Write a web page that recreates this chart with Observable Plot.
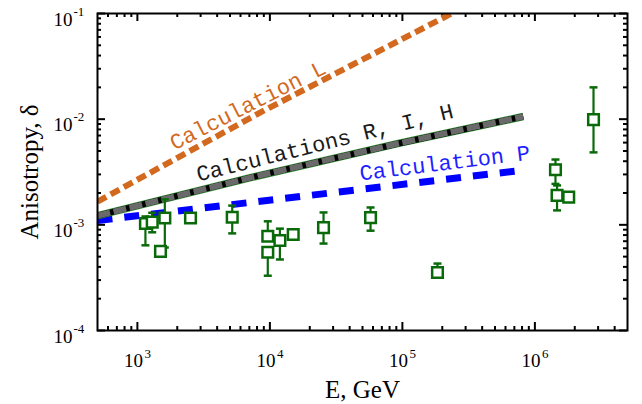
<!DOCTYPE html>
<html>
<head>
<meta charset="utf-8">
<script src="https://cdn.jsdelivr.net/npm/d3@7"></script>
<script src="https://cdn.jsdelivr.net/npm/@observablehq/plot@0.6"></script>
<style>
  html, body { margin: 0; padding: 0; background: white; }
</style>
</head>
<body>
<div id="chart"></div>
<script>
// ---- data ----
const energy  = [1150, 1294, 1611, 1494, 2517, 5197, 9640, 9640, 11900, 15000, 25400, 57500, 184000, 1430000, 1470000, 1800000, 2770000];
const delta   = [1.03e-3, 1.06e-3, 1.16e-3, 5.6e-4, 1.16e-3, 1.18e-3, 7.8e-4, 5.5e-4, 7.1e-4, 8.1e-4, 9.4e-4, 1.17e-3, 3.54e-4, 3.32e-3, 1.90e-3, 1.83e-3, 9.9e-3];
const errLow  = [6.4e-4, 8.5e-4, 6.1e-4, 5.6e-4, 1.16e-3, 8.3e-4, 7.8e-4, 3.3e-4, 4.7e-4, 8.1e-4, 6.65e-4, 8.8e-4, 3.2e-4, 2.44e-3, 1.37e-3, 1.83e-3, 4.85e-3];
const errHigh = [1.2e-3, 1.3e-3, 1.74e-3, 5.6e-4, 1.16e-3, 1.52e-3, 1.08e-3, 5.5e-4, 9.2e-4, 8.1e-4, 1.31e-3, 1.46e-3, 4.3e-4, 4.15e-3, 2.36e-3, 1.83e-3, 2.0e-2];

const calcL_E = [500, 8500, 235000];
const calcL_d = [1.66e-3, 1.16e-2, 1.0e-1];
const calcRIH_E = [500, 7140, 93500, 817000];
const calcRIH_d = [1.22e-3, 2.8e-3, 5.89e-3, 1.06e-2];
const calcP_E = [500, 780000];
const calcP_d = [1.1e-3, 3.27e-3];

const labelText  = ["Calculation L", "Calculations R, I, H", "Calculation P"];
const labelE     = [1905, 2890, 48300];
const labelD     = [5.05e-3, 2.57e-3, 2.63e-3];
const labelAngle = [-27, -14, -7];
const labelColor = ["#D2691E", "#1a1a1a", "#1f1fff"];

const xMajor = [1e3, 1e4, 1e5, 1e6];
const xExp   = ["3", "4", "5", "6"];
const yMajor = [1e-1, 1e-2, 1e-3, 1e-4];
const yExp   = ["-1", "-2", "-3", "-4"];
const xDomain = [500, 5e6];
const yDomain = [1e-4, 1e-1];

// ---- derived tables ----
const points = energy.map((e, i) => ({e, d: delta[i], lo: errLow[i], hi: errHigh[i]}));
const lineOf = (E, D) => E.map((e, i) => ({e, d: D[i]}));
const lineL = lineOf(calcL_E, calcL_d);
const lineRIH = lineOf(calcRIH_E, calcRIH_d);
const lineP = lineOf(calcP_E, calcP_d);
const labels = labelText.map((t, i) => ({t, e: labelE[i], d: labelD[i], a: labelAngle[i], c: labelColor[i]}));

function minorTicks([a, b]) {
  const out = [];
  for (let k = Math.floor(Math.log10(a)); k <= Math.ceil(Math.log10(b)); k++)
    for (let m = 2; m <= 9; m++) {
      const v = m * Math.pow(10, k);
      if (v > a && v < b) out.push(v);
    }
  return out;
}
const xMinor = minorTicks(xDomain);
const yMinor = minorTicks(yDomain);

const W = 642, H = 404, mL = 97, mR = 15, mT = 13, mB = 74;
const plotW = W - mL - mR, plotH = H - mT - mB;
const green = "#0a6a0a";

const cap = {draw(ctx, size) { const w = Math.sqrt(size / Math.PI); ctx.moveTo(-w, 0); ctx.lineTo(w, 0); }};
const lineOpts = {x: "e", y: "d", clip: true, strokeLinecap: "butt", strokeLinejoin: "miter"};

const chart = Plot.plot({
  width: W, height: H,
  marginLeft: mL, marginRight: mR, marginTop: mT, marginBottom: mB,
  x: {type: "log", domain: xDomain, axis: null},
  y: {type: "log", domain: yDomain, axis: null},
  style: {fontFamily: "'Liberation Serif', 'Times New Roman', serif", background: "white", color: "black"},
  marks: [
    // inward ticks on all sides
    Plot.tickX(xMajor, {x: d => d, insetTop: plotH - 8, strokeWidth: 2}),
    Plot.tickX(xMajor, {x: d => d, insetBottom: plotH - 8, strokeWidth: 2}),
    Plot.tickX(xMinor, {x: d => d, insetTop: plotH - 4, strokeWidth: 2}),
    Plot.tickX(xMinor, {x: d => d, insetBottom: plotH - 4, strokeWidth: 2}),
    Plot.tickY(yMajor, {y: d => d, insetRight: plotW - 8, strokeWidth: 2}),
    Plot.tickY(yMajor, {y: d => d, insetLeft: plotW - 8, strokeWidth: 2}),
    Plot.tickY(yMinor, {y: d => d, insetRight: plotW - 4, strokeWidth: 2}),
    Plot.tickY(yMinor, {y: d => d, insetLeft: plotW - 4, strokeWidth: 2}),

    // calculation lines
    Plot.line(lineL, {...lineOpts, stroke: "#D2691E", strokeWidth: 6, strokeDasharray: "10,5"}),
    Plot.line(lineP, {...lineOpts, stroke: "#0000ff", strokeWidth: 7, strokeDasharray: "15,12"}),
    Plot.line(lineRIH, {...lineOpts, stroke: "#2e8b2e", strokeWidth: 7.5}),
    Plot.line(lineRIH, {...lineOpts, stroke: "#000000", strokeWidth: 6}),
    Plot.line(lineRIH, {...lineOpts, stroke: "#6a6a6a", strokeWidth: 6, strokeDasharray: "13,3.5"}),

    // line labels
    ...labels.map(l => Plot.text([l], {x: "e", y: "d", text: "t", rotate: l.a, fill: l.c,
      textAnchor: "start", lineAnchor: "bottom", fontSize: 22,
      fontFamily: "'Courier New', 'Liberation Mono', monospace"})),

    // data points with error bars
    Plot.ruleX(points, {x: "e", y1: "lo", y2: "hi", stroke: green, strokeWidth: 2.2}),
    Plot.dot(points, {x: "e", y: "lo", symbol: cap, r: 4, stroke: green, strokeWidth: 2.5, fill: "none"}),
    Plot.dot(points, {x: "e", y: "hi", symbol: cap, r: 4, stroke: green, strokeWidth: 2.5, fill: "none"}),
    Plot.dot(points, {x: "e", y: "d", symbol: "square", r: 6, stroke: green, strokeWidth: 2.5, fill: "white"}),

    Plot.frame({stroke: "black", strokeWidth: 2}),

    // tick labels
    Plot.text(xMajor, {x: d => d, frameAnchor: "bottom", text: () => "10", textAnchor: "middle", lineAnchor: "bottom", dx: -4, dy: 36, fontSize: 19}),
    Plot.text(xMajor, {x: d => d, frameAnchor: "bottom", text: (d, i) => xExp[i], textAnchor: "start", lineAnchor: "bottom", dx: 7, dy: 27, fontSize: 13}),
    Plot.text(yMajor, {y: d => d, frameAnchor: "left", text: () => "10", textAnchor: "end", lineAnchor: "bottom", dx: -25, dy: 12, fontSize: 19}),
    Plot.text(yMajor, {y: d => d, frameAnchor: "left", text: (d, i) => yExp[i], textAnchor: "start", lineAnchor: "bottom", dx: -24, dy: 2, fontSize: 13}),

    // axis titles
    Plot.text(["E, GeV"], {frameAnchor: "bottom", text: d => d, textAnchor: "middle", lineAnchor: "bottom", dy: 67, fontSize: 25}),
    Plot.text(["Anisotropy, δ"], {frameAnchor: "left", text: d => d, rotate: -90, textAnchor: "middle", lineAnchor: "bottom", dx: -60, fontSize: 25})
  ]
});
document.getElementById("chart").appendChild(chart);
</script>
</body>
</html>
